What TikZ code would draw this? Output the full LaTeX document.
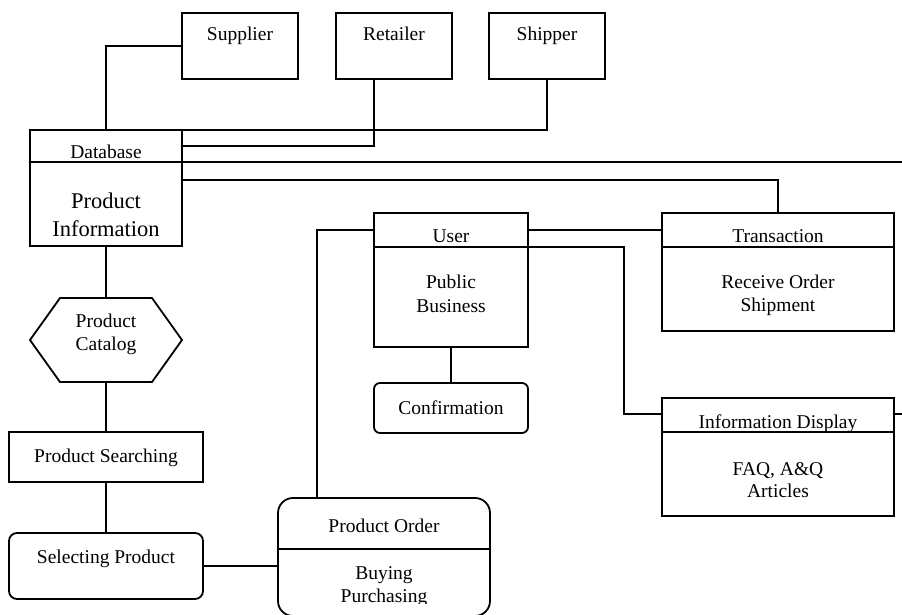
\documentclass[tikz,border=0pt]{standalone}
\usepackage{fontspec}
\setmainfont{Liberation Serif}
\usetikzlibrary{calc}
\begin{document}
\begin{tikzpicture}[x=1pt,y=-1pt, line width=1.8pt,
  box/.style={draw, line width=1.8pt, rectangle, inner sep=0pt, outer sep=0pt},
  txt/.style={anchor=base, inner sep=0pt, font=\fontsize{19.5}{23}\selectfont},
  bigtxt/.style={anchor=base, inner sep=0pt, font=\fontsize{22.5}{26}\selectfont},
  conn/.style={draw, line width=1.8pt}]
\useasboundingbox[fill=white] (0,0) rectangle (902,615);

% boxes
\node[box, minimum width=116pt, minimum height=66pt] (sup) at (240,46) {};
\node[box, minimum width=116pt, minimum height=66pt] (ret) at (394,46) {};
\node[box, minimum width=116pt, minimum height=66pt] (shp) at (547,46) {};
\node[box, minimum width=152pt, minimum height=32pt] (dbh) at (106,146) {};
\node[box, minimum width=152pt, minimum height=84pt] (dbb) at (106,204) {};
\node[minimum width=152pt, minimum height=84pt, inner sep=0pt, outer sep=0pt] (cat) at (106,340) {};
\node[box, minimum width=194pt, minimum height=50pt] (srch) at (106,457) {};
\node[box, rounded corners=8pt, minimum width=194pt, minimum height=66pt] (sel) at (106,566) {};
\node[box, rounded corners=15pt, minimum width=212pt, minimum height=118pt] (ord) at (384,557) {};
\node[box, minimum width=154pt, minimum height=134pt] (usr) at (451,280) {};
\node[box, rounded corners=6pt, minimum width=154pt, minimum height=50pt] (conf) at (451,408) {};
\node[box, minimum width=232pt, minimum height=118pt] (trn) at (778,272) {};
\node[box, minimum width=232pt, minimum height=118pt] (inf) at (778,457) {};

% hexagon
\draw[line join=miter] ($(cat.north west)+(30,0)$) -- ($(cat.north east)+(-30,0)$) -- (cat.east)
  -- ($(cat.south east)+(-30,0)$) -- ($(cat.south west)+(30,0)$) -- (cat.west) -- cycle;

% dividers
\draw ($(usr.north west)+(0,34)$) -- ($(usr.north east)+(0,34)$);
\draw ($(trn.north west)+(0,34)$) -- ($(trn.north east)+(0,34)$);
\draw ($(inf.north west)+(0,34)$) -- ($(inf.north east)+(0,34)$);
\draw ($(ord.north west)+(0,51)$) -- ($(ord.north east)+(0,51)$);

% free ends
\coordinate (edgeA) at (902,162);
\coordinate (edgeB) at (902,414);

% connectors
\draw[conn] (dbh.north) |- (sup.west);
\draw[conn] ([xshift=-20pt]ret.south) |- (dbh.east);
\draw[conn] (shp.south) |- (dbh.north east);
\draw[conn] (dbh.south east) -- (edgeA);
\draw[conn] ($(dbb.north east)+(0,18)$) -| (trn.north);
\draw[conn] ($(usr.north east)+(0,17)$) -- ($(trn.north west)+(0,17)$);
\draw[conn] ($(usr.north east)+(0,34)$) -| ($(inf.north west)+(-38,16)$) -- ($(inf.north west)+(0,16)$);
\draw[conn] ($(inf.north east)+(0,16)$) -- (edgeB);
\draw[conn] (usr.south) -- (conf.north);
\draw[conn] ([xshift=39pt]ord.north west) |- ($(usr.north west)+(0,17)$);
\draw[conn] (sel.east) -- (sel.east -| ord.west);
\draw[conn] (dbb.south) -- (cat.north);
\draw[conn] (cat.south) -- (srch.north);
\draw[conn] (srch.south) -- (sel.north);

% texts
\node[txt] (tsup) at (240,41) {Supplier};
\node[txt] (tret) at (394,41) {Retailer};
\node[txt] (tshp) at (547,41) {Shipper};
\node[txt] (tdb) at (106,158) {Database};
\node[bigtxt] (tpi1) at (106,208.5) {Product};
\node[bigtxt] (tpi2) at (106,236) {Information};
\node[txt] (tcat1) at (106,327) {Product};
\node[txt] (tcat2) at (106,350) {Catalog};
\node[txt] (tsrch) at (106,462) {Product Searching};
\node[txt] (tsel) at (106,563) {Selecting Product};
\node[txt] (tord) at (384,532) {Product Order};
\node[txt] (tord1) at (384,579) {Buying};
\begin{scope}
\clip (0,0) rectangle (902,603.5);
\node[txt] (tord2) at (384,602) {Purchasing};
\end{scope}
\node[txt] (tusr) at (451,242) {User};
\node[txt] (tusr1) at (451,288) {Public};
\node[txt] (tusr2) at (451,312) {Business};
\node[txt] (tconf) at (451,414) {Confirmation};
\node[txt] (ttrn) at (778,242) {Transaction};
\node[txt] (ttrn1) at (778,288) {Receive Order};
\node[txt] (ttrn2) at (778,311) {Shipment};
\node[txt] (tinf) at (778,428) {Information Display};
\node[txt] (tinf1) at (778,475) {FAQ, A\&Q};
\node[txt] (tinf2) at (778,497) {Articles};
\end{tikzpicture}
\end{document}
